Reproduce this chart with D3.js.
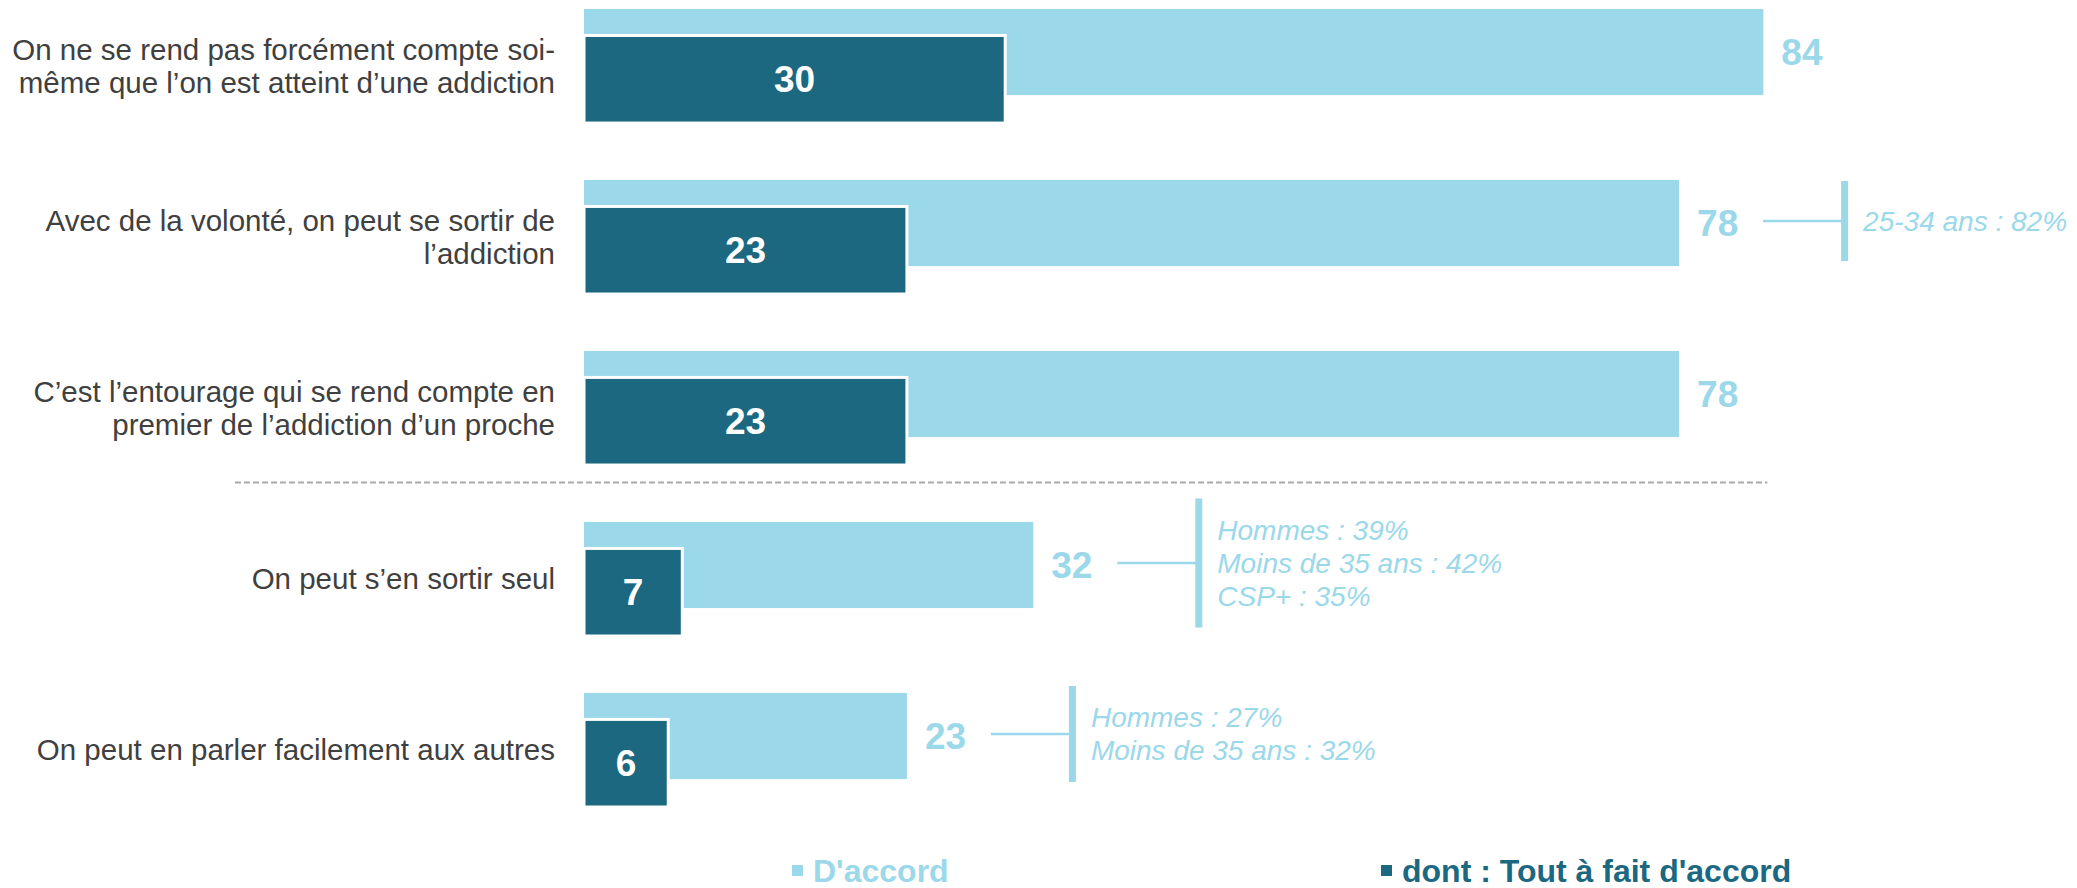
<!DOCTYPE html>
<html>
<head>
<meta charset="utf-8">
<script src="https://cdn.jsdelivr.net/npm/d3@7"></script>
<style>
  body { margin: 0; background: #fff; }
  svg { font-family: "Liberation Sans", Arial, sans-serif; }
</style>
</head>
<body>
<svg width="2077" height="888"></svg>
<script>
// data
var categories = [
  ["On ne se rend pas forcément compte soi-", "même que l’on est atteint d’une addiction"],
  ["Avec de la volonté, on peut se sortir de", "l’addiction"],
  ["C’est l’entourage qui se rend compte en", "premier de l’addiction d’un proche"],
  ["On peut s’en sortir seul"],
  ["On peut en parler facilement aux autres"]
];
var agree = [84, 78, 78, 32, 23];
var fullyAgree = [30, 23, 23, 7, 6];
var notes = [
  [],
  ["25-34 ans : 82%"],
  [],
  ["Hommes : 39%", "Moins de 35 ans : 42%", "CSP+ : 35%"],
  ["Hommes : 27%", "Moins de 35 ans : 32%"]
];
var seriesNames = ["D'accord", "dont : Tout à fait d'accord"];

var light = "#9AD8EA", dark = "#1B6880";

var svg = d3.select("svg"),
  width = +svg.attr("width"),
  height = +svg.attr("height");

var x = d3.scaleLinear().domain([0, 100]).range([584, 1988]);
var y = d3.scaleBand().domain(d3.range(categories.length)).range([9, 807]).paddingInner(0.333);
var bw = y.bandwidth();
var lightH = bw * 0.755, darkOff = bw * 0.232, darkH = bw - darkOff;

var rows = svg.selectAll("g.row").data(d3.range(categories.length))
  .enter().append("g")
  .attr("class", "row")
  .attr("transform", i => "translate(0," + y(i) + ")");

// light bars (D'accord)
rows.append("rect")
  .attr("x", x(0))
  .attr("y", 0)
  .attr("width", i => x(agree[i]) - x(0))
  .attr("height", lightH)
  .attr("fill", light);

// dark bars (tout a fait)
rows.append("rect")
  .attr("x", x(0))
  .attr("y", darkOff)
  .attr("width", i => x(fullyAgree[i]) - x(0))
  .attr("height", darkH)
  .attr("fill", dark)
  .attr("stroke", "#fff")
  .attr("stroke-width", 3);

// value labels
rows.append("text")
  .attr("x", i => x(agree[i]) + 18)
  .attr("y", lightH / 2)
  .attr("dy", "0.35em")
  .attr("fill", light)
  .style("font-size", "37px")
  .style("font-weight", "bold")
  .text(i => agree[i]);

rows.append("text")
  .attr("x", i => (x(0) + x(fullyAgree[i])) / 2)
  .attr("y", darkOff + darkH / 2)
  .attr("dy", "0.35em")
  .attr("text-anchor", "middle")
  .attr("fill", "#fff")
  .style("font-size", "37px")
  .style("font-weight", "bold")
  .text(i => fullyAgree[i]);

// category labels
rows.each(function(i) {
  var lines = categories[i];
  var t = d3.select(this).append("text")
    .attr("text-anchor", "end")
    .attr("fill", "#404040")
    .style("font-size", "29.5px");
  lines.forEach((l, k) => {
    t.append("tspan")
      .attr("x", 555)
      .attr("y", bw / 2 + (k - (lines.length - 1) / 2) * 33)
      .attr("dy", "0.35em")
      .text(l);
  });
});

// annotations
rows.filter(i => notes[i].length > 0).each(function(i) {
  var g = d3.select(this);
  var n = notes[i].length;
  var cy = lightH / 2 - 2;
  var x1 = x(agree[i]) + 84, x2 = x1 + 80;
  var h = Math.max(80, n * 33 + 30);
  g.append("line")
    .attr("x1", x1).attr("x2", x2)
    .attr("y1", cy).attr("y2", cy)
    .attr("stroke", light)
    .attr("stroke-width", 2.5);
  g.append("rect")
    .attr("x", x2 - 2).attr("y", cy - h / 2)
    .attr("width", 7).attr("height", h)
    .attr("fill", light);
  notes[i].forEach((s, k) => {
    g.append("text")
      .attr("x", x2 + 20)
      .attr("y", cy + (k - (n - 1) / 2) * 33)
      .attr("dy", "0.35em")
      .attr("fill", light)
      .style("font-size", "28px")
      .style("font-style", "italic")
      .text(s);
  });
});

// dashed separator between the two groups
var sepY = (y(2) + bw + y(3)) / 2 - 11;
svg.append("line")
  .attr("x1", 235).attr("x2", x(agree[0]) + 4)
  .attr("y1", sepY).attr("y2", sepY)
  .attr("stroke", "#aaaaaa")
  .attr("stroke-width", 2)
  .attr("stroke-dasharray", "6,3");

// legend
var legend = svg.append("g").attr("transform", "translate(0,871)");
var legX = [792, 1381];
[light, dark].forEach((c, k) => {
  legend.append("rect")
    .attr("x", legX[k]).attr("y", -6)
    .attr("width", 11).attr("height", 11)
    .attr("fill", c);
  legend.append("text")
    .attr("x", legX[k] + 21)
    .attr("y", 0)
    .attr("dy", "0.35em")
    .attr("fill", c)
    .style("font-size", "32px")
    .style("font-weight", "bold")
    .text(seriesNames[k]);
});
</script>
</body>
</html>
